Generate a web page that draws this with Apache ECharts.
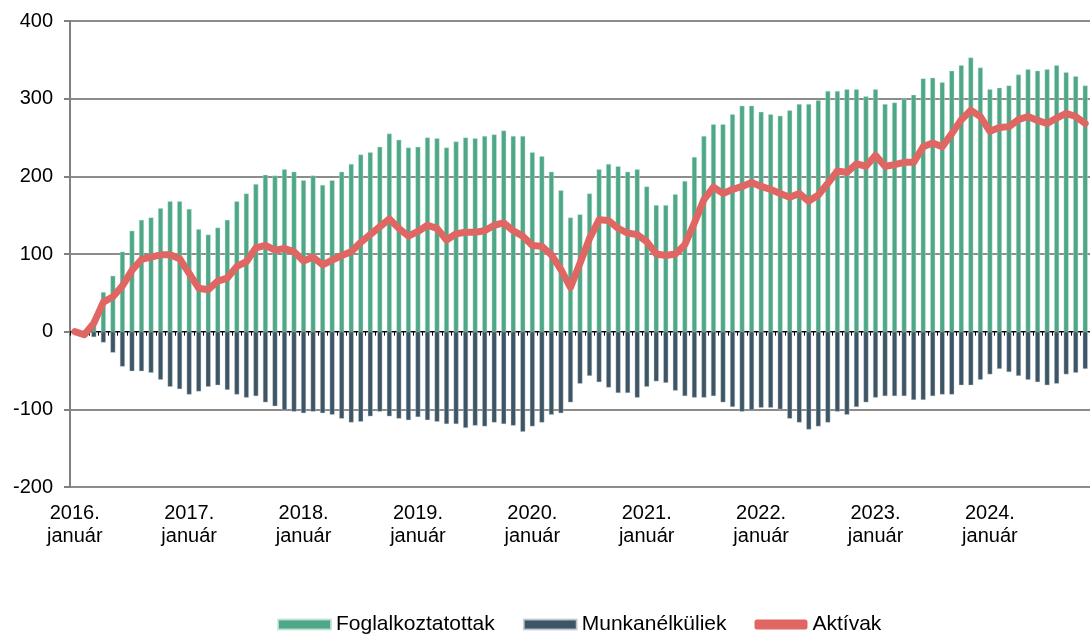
<!DOCTYPE html>
<html>
<head>
<meta charset="utf-8">
<script src="https://cdn.jsdelivr.net/npm/echarts@6/dist/echarts.min.js"></script>
<style>
html, body { margin: 0; padding: 0; background: #fff; }
#main { width: 1090px; height: 634px; }
</style>
</head>
<body>
<div id="main"></div>
<script>
// havi adatok 2016. január - 2024. november
var years = [2016, 2017, 2018, 2019, 2020, 2021, 2022, 2023, 2024];
var monthNames = ['január', 'február', 'március', 'április', 'május', 'június',
  'július', 'augusztus', 'szeptember', 'október', 'november', 'december'];
var monthCount = 107;

var foglalkoztatottak = [
  0, 0, 16, 51, 72, 103, 130, 144, 147, 159, 168, 168,
  158, 132, 125, 134, 144, 168, 178, 190, 202, 201, 209, 206,
  195, 201, 189, 195, 206, 216, 228, 231, 238, 255, 247, 237,
  238, 250, 249, 237, 245, 250, 249, 252, 254, 259, 252, 252,
  231, 226, 206, 182, 147, 151, 178, 209, 216, 213, 206, 209,
  187, 163, 163, 177, 194, 225, 252, 267, 267, 280, 291, 291,
  283, 280, 278, 285, 293, 293, 298, 310, 310, 312, 312, 303,
  312, 293, 295, 300, 305, 326, 327, 321, 336, 343, 353, 340,
  312, 314, 317, 331, 338, 336, 338, 343, 334, 329, 317
];
var munkanelkuliek = [
  0, -3, -7, -14, -27, -45, -51, -51, -53, -62, -71, -74,
  -81, -77, -71, -69, -75, -81, -85, -83, -91, -96, -101, -103,
  -105, -103, -105, -107, -112, -117, -116, -109, -103, -109, -112, -114,
  -110, -114, -116, -119, -119, -124, -121, -122, -117, -119, -121, -129,
  -122, -117, -107, -105, -91, -67, -57, -65, -72, -79, -79, -85,
  -71, -64, -66, -76, -83, -85, -85, -83, -91, -97, -103, -101,
  -98, -98, -100, -112, -117, -126, -122, -117, -103, -107, -97, -91,
  -85, -83, -83, -83, -88, -88, -83, -81, -81, -69, -69, -62,
  -55, -48, -52, -57, -62, -65, -69, -67, -55, -53, -48
];
var aktivak = [
  0, -4, 11, 38, 45, 59, 79, 93, 96, 99, 99, 94,
  75, 56, 54, 65, 69, 84, 90, 108, 111, 105, 107, 103,
  91, 96, 86, 92, 98, 103, 115, 125, 135, 145, 133, 123,
  129, 137, 133, 118, 126, 128, 128, 130, 137, 140, 130, 123,
  111, 110, 99, 80, 57, 88, 120, 144, 143, 133, 127, 125,
  116, 100, 98, 100, 112, 140, 170, 186, 178, 183, 187, 192,
  187, 183, 178, 173, 178, 168, 176, 191, 207, 205, 216, 213,
  227, 213, 215, 218, 218, 238, 243, 238, 255, 273, 285, 277,
  258, 263, 264, 273, 277, 272, 268, 275, 281, 277, 268
];
var yTicks = { min: -200, max: 400, interval: 100 };

var categories = [];
for (var i = 0; i < monthCount; i++) {
  var y = years[Math.floor(i / 12)];
  var m = i % 12;
  categories.push(m === 0 ? y + '.\n' + monthNames[m] : y + '. ' + monthNames[m]);
}

var font = 'Liberation Sans, Arial, sans-serif';
var myChart = echarts.init(document.getElementById('main'));
myChart.setOption({
  animation: false,
  textStyle: { fontFamily: font },
  grid: { left: 70, top: 21, width: 1022, height: 466 },
  legend: {
    left: 272,
    top: 609,
    itemWidth: 53,
    itemHeight: 10,
    itemGap: 28,
    textStyle: { fontSize: 21, color: '#000', fontFamily: font },
    data: [
      { name: 'Foglalkoztatottak', icon: 'rect' },
      { name: 'Munkanélküliek', icon: 'rect' },
      { name: 'Aktívak', icon: 'roundRect' }
    ]
  },
  xAxis: [
    {
      // tengely a 0 szinten, csak a kis jelölőkkel
      type: 'category',
      data: categories,
      axisLine: { onZero: true, lineStyle: { color: '#000', width: 1 } },
      axisTick: { show: true, interval: 0, length: 4, lineStyle: { color: '#000' } },
      axisLabel: { show: false },
      splitLine: { show: false }
    },
    {
      // feliratok alul
      type: 'category',
      data: categories,
      position: 'bottom',
      axisLine: { show: false },
      axisTick: { show: false },
      axisLabel: {
        interval: 11,
        margin: 15,
        fontSize: 20,
        lineHeight: 23,
        color: '#000',
        fontFamily: font
      }
    }
  ],
  yAxis: {
    type: 'value',
    min: yTicks.min,
    max: yTicks.max,
    interval: yTicks.interval,
    axisLine: { show: true, lineStyle: { color: '#808080', width: 2 } },
    axisTick: { show: true, length: 6, lineStyle: { color: '#808080', width: 2 } },
    axisLabel: { fontSize: 20, color: '#000', margin: 17, fontFamily: font },
    splitLine: { lineStyle: { color: '#8c8c8c', width: 2 } }
  },
  series: [
    {
      name: 'Foglalkoztatottak',
      type: 'bar',
      barWidth: 5,
      barGap: '-100%',
      itemStyle: { color: '#4ea887', borderColor: 'rgba(200,230,215,0.8)', borderWidth: 0.5 },
      data: foglalkoztatottak
    },
    {
      name: 'Munkanélküliek',
      type: 'bar',
      barWidth: 5,
      barGap: '-100%',
      itemStyle: { color: '#3d5565', borderColor: 'rgba(200,210,215,0.8)', borderWidth: 0.5 },
      data: munkanelkuliek
    },
    {
      name: 'Aktívak',
      type: 'line',
      showSymbol: false,
      z: 5,
      itemStyle: { color: '#e06664' },
      lineStyle: { color: '#e06664', width: 7, cap: 'round', join: 'round' },
      data: aktivak
    }
  ]
});
</script>
</body>
</html>
